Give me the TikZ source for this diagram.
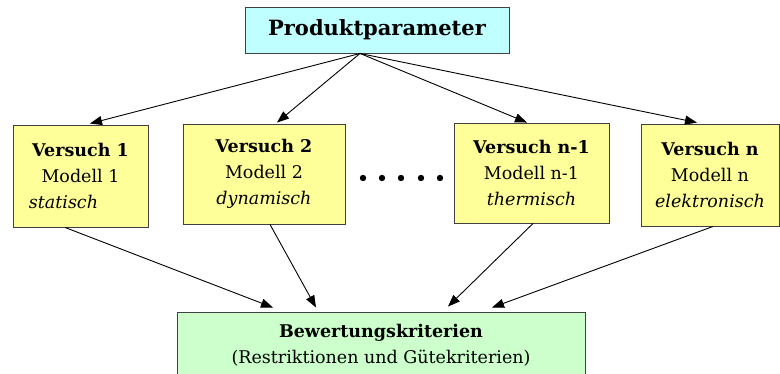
\documentclass[tikz,border=0pt]{standalone}
\usepackage{fontspec}
\setmainfont{DejaVu Serif}
\usetikzlibrary{arrows.meta}
\definecolor{topcol}{HTML}{C0FFFF}
\definecolor{boxcol}{HTML}{FFFF99}
\definecolor{botcol}{HTML}{CCFFCC}
\definecolor{edgecol}{HTML}{404040}
\tikzset{
  box/.style={draw=edgecol, line width=0.9pt, inner sep=0pt, align=center,
    font=\fontsize{17.5}{26}\selectfont},
  conn/.style={line width=0.9pt, -{Triangle[length=12pt,width=9pt]}},
}
\begin{document}
\begin{tikzpicture}[x=1pt,y=-1pt]
\clip (0,0) rectangle (780,373);
\fill[white] (0,0) rectangle (780,373);
\node[box, fill=topcol, minimum width=264pt, minimum height=46pt,
  font=\fontsize{21}{24}\selectfont\bfseries] (top) at (377,30) {Produktparameter};
\node[box, fill=boxcol, minimum width=135pt, minimum height=102pt] (b1) at (80.5,176)
  {\textbf{Versuch 1}\\Modell 1\\\textit{statisch}\hspace*{34pt}};
\node[box, fill=boxcol, minimum width=162pt, minimum height=100pt] (b2) at (264,174)
  {\textbf{Versuch 2}\\Modell 2\\\textit{dynamisch}};
\node[box, fill=boxcol, minimum width=155pt, minimum height=100pt] (b3) at (531.5,173)
  {\textbf{Versuch n-1}\\Modell n-1\\\textit{thermisch}};
\node[box, fill=boxcol, minimum width=138pt, minimum height=102pt] (b4) at (710,175)
  {\textbf{Versuch n}\\Modell n\\\textit{elektronisch}};
\node[box, fill=botcol, minimum width=408pt, minimum height=66pt] (bot) at (381,345)
  {\textbf{Bewertungskriterien}\\(Restriktionen und Gütekriterien)};
\foreach \xx in {363,382,401,421,440} \fill (\xx,178) circle (3.2pt);
% top arrows
\draw[conn] ([xshift=-17pt]top.south) -- ([shift={(9.5,-1)}]b1.north);
\draw[conn] ([xshift=-17pt]top.south) -- ([shift={(13,-1)}]b2.north);
\draw[conn] ([xshift=-17pt]top.south) -- ([shift={(-4.5,0)}]b3.north);
\draw[conn] ([xshift=-17pt]top.south) -- ([shift={(-13,-1)}]b4.north);
% bottom arrows
\draw[conn] ([xshift=-15.5pt]b1.south) -- ([shift={(-108,-4)}]bot.north);
\draw[conn] ([xshift=6pt]b2.south) -- ([shift={(-65,-4)}]bot.north);
\draw[conn] ([xshift=1.5pt]b3.south) -- ([shift={(67,-5)}]bot.north);
\draw[conn] ([xshift=3pt]b4.south) -- ([shift={(111,-4)}]bot.north);
\end{tikzpicture}
\end{document}
